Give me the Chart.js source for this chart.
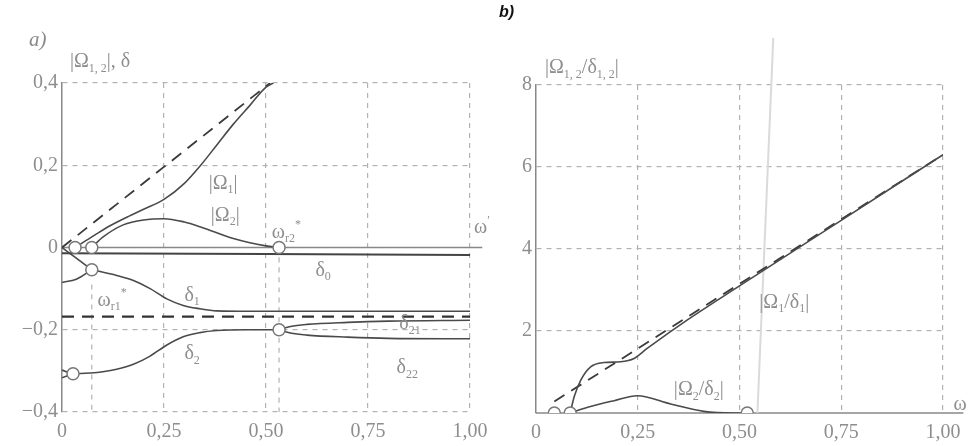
<!DOCTYPE html>
<html>
<head>
<meta charset="utf-8">
<script src="https://cdn.jsdelivr.net/npm/chart.js@4.4.1/dist/chart.umd.min.js"></script>
<style>
  body { margin: 0; background: #fff; width: 977px; height: 446px; position: relative; overflow: hidden; }
  #wrapA { position: absolute; left: 0; top: 0; width: 500px; height: 446px; }
  #wrapB { position: absolute; left: 490px; top: 0; width: 487px; height: 446px; }
  .tagA { position: absolute; left: 29px; top: 27px; font: italic 21px 'Liberation Serif', serif; color: #8a8a8a; }
  .tagB { position: absolute; left: 499px; top: 3px; font: bold italic 16px 'Liberation Sans', sans-serif; color: #111; }
</style>
</head>
<body>
<div id="wrapA"><canvas id="chartA" width="500" height="446"></canvas></div>
<div id="wrapB"><canvas id="chartB" width="487" height="446"></canvas></div>
<div class="tagA">a)</div>
<div class="tagB">b)</div>

<script>
// ---------- shared axis ticks ----------
const xTicks = [0, 0.25, 0.5, 0.75, 1.0];
const xTickLabels = ["0", "0,25", "0,50", "0,75", "1,00"];

// ---------- panel a) ----------
const yTicksA = [-0.4, -0.2, 0, 0.2, 0.4];
const yTickLabelsA = ["\u22120,4", "\u22120,2", "0", "0,2", "0,4"];

const asymOmegaX = [0, 0.51];
const asymOmegaY = [0, 0.4];

const omega1X = [0.032, 0.08, 0.12, 0.16, 0.2, 0.25, 0.3, 0.34, 0.38, 0.42, 0.46, 0.5, 0.518];
const omega1Y = [0, 0.03, 0.054, 0.074, 0.093, 0.117, 0.156, 0.2, 0.25, 0.3, 0.345, 0.39, 0.4];

const omega2X = [0.073, 0.1, 0.15, 0.2, 0.25, 0.3, 0.34, 0.42, 0.5, 0.532];
const omega2Y = [0, 0.025, 0.055, 0.067, 0.07, 0.062, 0.05, 0.022, 0.004, 0];

const delta0X = [0, 1.0];
const delta0Y = [-0.014, -0.018];

const delta1X = [0.073, 0.134, 0.175, 0.216, 0.257, 0.297, 0.338, 0.379, 0.46, 1.0];
const delta1Y = [-0.054, -0.068, -0.08, -0.1, -0.125, -0.141, -0.149, -0.154, -0.155, -0.155];
const delta1LowX = [0, 0.035, 0.073];
const delta1LowY = [-0.085, -0.077, -0.054];
const delta1TopX = [0, 0.035, 0.073];
const delta1TopY = [0, -0.026, -0.054];

const delta2X = [0, 0.027, 0.07, 0.1, 0.134, 0.175, 0.216, 0.257, 0.297, 0.338, 0.379, 0.45, 0.532];
const delta2Y = [-0.298, -0.307, -0.305, -0.302, -0.296, -0.284, -0.264, -0.237, -0.217, -0.207, -0.202, -0.2, -0.2];
const delta2LowX = [0, 0.027];
const delta2LowY = [-0.317, -0.307];

const delta21X = [0.532, 0.56, 0.6, 0.7, 0.8, 1.0];
const delta21Y = [-0.2, -0.192, -0.187, -0.182, -0.179, -0.177];
const delta22X = [0.532, 0.56, 0.6, 0.7, 0.8, 1.0];
const delta22Y = [-0.2, -0.208, -0.213, -0.218, -0.221, -0.222];

const asymDeltaX = [0, 1.0];
const asymDeltaY = [-0.168, -0.168];

const wr1LineX = [0.073, 0.073];
const wr1LineY = [-0.09, -0.4];
const wr2LineX = [0.532, 0.532];
const wr2LineY = [0, -0.4];

const knotsAX = [0.032, 0.073, 0.073, 0.532, 0.532, 0.027];
const knotsAY = [0, 0, -0.054, 0, -0.2, -0.307];

// ---------- panel b) ----------
const yTicksB = [0, 2, 4, 6, 8];
const yTickLabelsB = ["", "2", "4", "6", "8"];

const asymRatioX = [0.045, 1.0];
const asymRatioY = [0.28, 6.3];

const ratio1X = [0.084, 0.094, 0.11, 0.135, 0.167, 0.208, 0.241, 0.274, 0.372, 0.5, 0.75, 1.0];
const ratio1Y = [0, 0.4, 0.8, 1.13, 1.23, 1.25, 1.33, 1.58, 2.27, 3.1, 4.7, 6.3];

const ratio2X = [0.084, 0.127, 0.192, 0.249, 0.331, 0.412, 0.486, 0.519];
const ratio2Y = [0, 0.14, 0.3, 0.42, 0.22, 0.04, 0.0, 0];

const greyLineX = [0.544, 0.583];
const greyLineY = [0, 9.15];

const knotsBX = [0.045, 0.084, 0.519];
const knotsBY = [0, 0, 0];

// ---------- helpers ----------
const INK = "#4a4a4a";
const GRID = "#b2b2b2";
const TXT = "#8e8e8e";
const SERIF = "'Liberation Serif', 'DejaVu Serif', serif";

const pts = (xs, ys) => xs.map((x, i) => ({ x: x, y: ys[i] }));

function curve(xs, ys, extra) {
  return Object.assign({
    data: pts(xs, ys),
    showLine: true,
    borderColor: INK,
    borderWidth: 1.6,
    pointRadius: 0,
    cubicInterpolationMode: "monotone",
    fill: false
  }, extra || {});
}

function knots(xs, ys) {
  return {
    data: pts(xs, ys),
    showLine: false,
    pointStyle: "circle",
    pointRadius: 6,
    pointBackgroundColor: "#fff",
    pointBorderColor: "#777",
    pointBorderWidth: 1.5
  };
}

function arrowHead(x, y, rot) {
  return {
    data: [{ x: x, y: y }],
    showLine: false,
    clip: false,
    pointStyle: "triangle",
    rotation: rot,
    pointRadius: 4,
    pointBackgroundColor: "#555",
    pointBorderColor: "#555"
  };
}

function drawRich(ctx, parts, x, y, size, align, color) {
  const big = size + "px " + SERIF;
  const small = Math.round(size * 0.62) + "px " + SERIF;
  let w = 0;
  parts.forEach(p => { ctx.font = p[1] ? small : big; w += ctx.measureText(p[0]).width; });
  let cx = align === "left" ? x : x - w / 2;
  ctx.textBaseline = "middle";
  ctx.textAlign = "left";
  ctx.fillStyle = color || TXT;
  parts.forEach(p => {
    ctx.font = p[1] ? small : big;
    const dy = p[1] === -1 ? size * 0.32 : (p[1] === 1 ? -size * 0.38 : 0);
    ctx.fillText(p[0], cx, y + dy);
    cx += ctx.measureText(p[0]).width;
  });
}

// text marks: data positions (at:'data') or offsets from chart area corner (at:'px')
const textMarks = {
  id: "textMarks",
  afterDatasetsDraw(chart, args, opts) {
    const ctx = chart.ctx;
    const xs = chart.scales.x, ys = chart.scales.y;
    ctx.save();
    (opts.items || []).forEach(it => {
      let px, py;
      if (it.at === "px") {
        px = chart.chartArea.left + it.x;
        py = chart.chartArea.top + it.y;
      } else {
        px = xs.getPixelForValue(it.x);
        py = ys.getPixelForValue(it.y);
      }
      drawRich(ctx, it.parts, px, py, it.size || 20, it.align, it.color);
    });
    ctx.restore();
  }
};

function makeScales(yTicks, yLabels, yMin, yMax, yWidth, xHeight) {
  return {
    x: {
      type: "linear", min: 0, max: 1,
      afterBuildTicks: s => { s.ticks = xTicks.map(v => ({ value: v })); },
      afterFit: s => { s.height = xHeight; },
      ticks: {
        autoSkip: false, maxRotation: 0, padding: 8, color: TXT,
        font: { family: SERIF, size: 20 },
        callback: (v, i) => xTickLabels[i]
      },
      grid: {
        drawTicks: false,
        color: c => (c.tick && c.tick.value === 0 ? "rgba(0,0,0,0)" : GRID),
        lineWidth: 1.2
      },
      border: { display: false, dash: [5, 5] }
    },
    y: {
      type: "linear", min: yMin, max: yMax,
      afterBuildTicks: s => { s.ticks = yTicks.map(v => ({ value: v })); },
      afterFit: s => { s.width = yWidth; },
      ticks: {
        autoSkip: false, padding: 4, color: TXT,
        font: { family: SERIF, size: 20 },
        callback: (v, i) => yLabels[i]
      },
      grid: {
        drawTicks: false,
        color: c => (c.tick && c.tick.value === 0 ? "rgba(0,0,0,0)" : GRID),
        lineWidth: 1.2
      },
      border: { display: true, color: "#888", width: 1.5, dash: [5, 5] }
    }
  };
}

// ---------- chart a) ----------
new Chart(document.getElementById("chartA"), {
  type: "scatter",
  data: {
    datasets: [
      knots(knotsAX, knotsAY),
      curve(omega1X, omega1Y),
      curve(omega2X, omega2Y),
      curve(asymOmegaX, asymOmegaY, { borderDash: [12, 8], borderWidth: 1.8, borderColor: "#3a3a3a" }),
      curve(delta0X, delta0Y, { borderWidth: 2, borderColor: "#444" }),
      curve(delta1X, delta1Y),
      curve(delta1LowX, delta1LowY),
      curve(delta1TopX, delta1TopY),
      curve(delta2X, delta2Y),
      curve(delta2LowX, delta2LowY),
      curve(delta21X, delta21Y),
      curve(delta22X, delta22Y),
      curve(asymDeltaX, asymDeltaY, { borderDash: [12, 8], borderWidth: 2.2, borderColor: "#333" }),
      curve(wr1LineX, wr1LineY, { borderDash: [5, 5], borderWidth: 1.2, borderColor: GRID }),
      curve(wr2LineX, wr2LineY, { borderDash: [5, 5], borderWidth: 1.2, borderColor: GRID }),
      curve([0, 1.03], [0, 0], { borderColor: "#888", borderWidth: 1.5, clip: false }),
      arrowHead(1.03, 0, 90),
      arrowHead(0, 0.415, 0)
    ]
  },
  options: {
    responsive: false,
    animation: false,
    events: [],
    layout: { padding: { top: 83, right: 30, left: 0, bottom: 0 } },
    scales: makeScales(yTicksA, yTickLabelsA, -0.4, 0.4, 62, 34),
    plugins: {
      legend: { display: false },
      tooltip: { enabled: false },
      textMarks: {
        items: [
          { at: "px", x: 8, y: -21, align: "left", parts: [["|\u03A9", 0], ["1, 2", -1], ["|, \u03B4", 0]] },
          { at: "px", x: 420, y: 145, parts: [["\u03C9", 0], ["\u2032", 1]] },
          { x: 0.395, y: 0.156, parts: [["|\u03A9", 0], ["1", -1], ["|", 0]] },
          { x: 0.4, y: 0.078, parts: [["|\u03A9", 0], ["2", -1], ["|", 0]] },
          { x: 0.55, y: 0.037, parts: [["\u03C9", 0], ["r2", -1], ["*", 1]] },
          { x: 0.64, y: -0.056, parts: [["\u03B4", 0], ["0", -1]] },
          { x: 0.319, y: -0.117, parts: [["\u03B4", 0], ["1", -1]] },
          { x: 0.123, y: -0.129, parts: [["\u03C9", 0], ["r1", -1], ["*", 1]] },
          { x: 0.319, y: -0.259, parts: [["\u03B4", 0], ["2", -1]] },
          { x: 0.853, y: -0.186, parts: [["\u03B4", 0], ["21", -1]] },
          { x: 0.846, y: -0.293, parts: [["\u03B4", 0], ["22", -1]] }
        ]
      }
    }
  },
  plugins: [textMarks]
});

// ---------- chart b) ----------
new Chart(document.getElementById("chartB"), {
  type: "scatter",
  data: {
    datasets: [
      knots(knotsBX, knotsBY),
      curve(ratio1X, ratio1Y),
      curve(ratio2X, ratio2Y),
      curve(asymRatioX, asymRatioY, { borderDash: [12, 8], borderWidth: 1.8, borderColor: "#3a3a3a" }),
      curve(greyLineX, greyLineY, { borderColor: "#dadada", borderWidth: 2, clip: false }),
      curve([0, 1.05], [0, 0], { borderColor: "#888", borderWidth: 1.5, clip: false }),
      arrowHead(1.05, 0, 90),
      arrowHead(0, 8.2, 0)
    ]
  },
  options: {
    responsive: false,
    animation: false,
    events: [],
    layout: { padding: { top: 85, right: 34, left: 0, bottom: 0 } },
    scales: makeScales(yTicksB, yTickLabelsB, 0, 8, 46, 33),
    plugins: {
      legend: { display: false },
      tooltip: { enabled: false },
      textMarks: {
        items: [
          { at: "px", x: 9, y: -17, align: "left", parts: [["|\u03A9", 0], ["1, 2", -1], ["/\u03B4", 0], ["1, 2", -1], ["|", 0]] },
          { at: "px", x: 424, y: 320, parts: [["\u03C9", 0]] },
          { x: 0.61, y: 2.7, parts: [["|\u03A9", 0], ["1", -1], ["/\u03B4", 0], ["1", -1], ["|", 0]] },
          { x: 0.40, y: 0.56, parts: [["|\u03A9", 0], ["2", -1], ["/\u03B4", 0], ["2", -1], ["|", 0]] }
        ]
      }
    }
  },
  plugins: [textMarks]
});
</script>
</body>
</html>
